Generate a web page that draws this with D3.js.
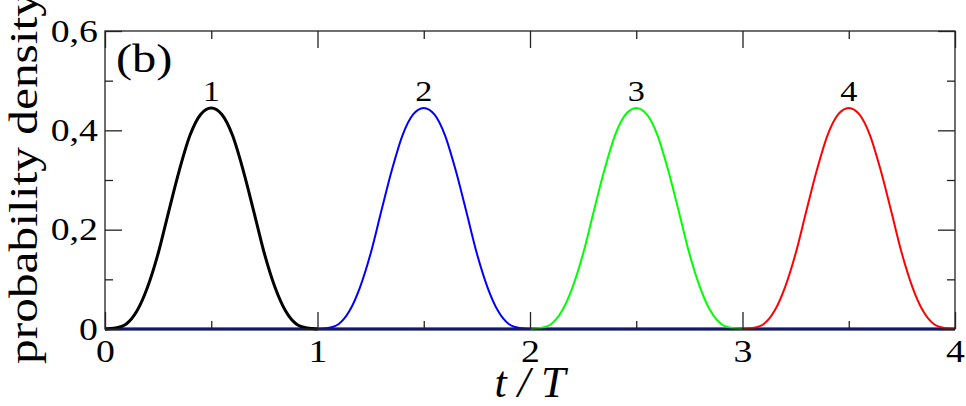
<!DOCTYPE html>
<html>
<head>
<meta charset="utf-8">
<script src="https://cdn.jsdelivr.net/npm/d3@7"></script>
<style>
  body { margin: 0; background: #fff; }
  text { font-family: "Liberation Serif", "Times New Roman", serif; fill: #000; }
</style>
</head>
<body>
<svg width="966" height="406"></svg>
<script>
var tLocal  = [0, 0.05, 0.1, 0.15, 0.2, 0.25, 0.3, 0.35, 0.4, 0.45, 0.5,
               0.55, 0.6, 0.65, 0.7, 0.75, 0.8, 0.85, 0.9, 0.95, 1];
var bump1 = [0, 0.002, 0.010, 0.036, 0.084, 0.152, 0.237, 0.320, 0.390, 0.432, 0.445,
             0.432, 0.390, 0.320, 0.237, 0.152, 0.084, 0.036, 0.010, 0.002, 0];
var bump2 = [0, 0.002, 0.010, 0.036, 0.084, 0.152, 0.237, 0.320, 0.390, 0.432, 0.445,
             0.432, 0.390, 0.320, 0.237, 0.152, 0.084, 0.036, 0.010, 0.002, 0];
var bump3 = [0, 0.002, 0.010, 0.036, 0.084, 0.152, 0.237, 0.320, 0.390, 0.432, 0.445,
             0.432, 0.390, 0.320, 0.237, 0.152, 0.084, 0.036, 0.010, 0.002, 0];
var bump4 = [0, 0.002, 0.010, 0.036, 0.084, 0.152, 0.237, 0.320, 0.390, 0.432, 0.445,
             0.432, 0.390, 0.320, 0.237, 0.152, 0.084, 0.036, 0.010, 0.002, 0];
var starts  = [0, 1, 2, 3];
var names   = ["1", "2", "3", "4"];
var colors  = ["#000000", "#0000ff", "#00ff00", "#ff0000"];
var widths  = [3, 2, 2, 2];
var peakT   = [0.5, 1.5, 2.5, 3.5];
var labelY  = 0.46;

var xTicks = [0, 1, 2, 3, 4];
var xMinor = [0.5, 1.5, 2.5, 3.5];
var yTicks = [0, 0.2, 0.4, 0.6];
var yMinor = [0.1, 0.3, 0.5];
var yTickLabels = ["0", "0,2", "0,4", "0,6"];

var bumps = [bump1, bump2, bump3, bump4];

var svg = d3.select("svg");
var pLeft = 105, pRight = 955, pTop = 31, pBottom = 329;
var wide = "scale(1.18,1)";   // the figure's lettering is drawn a bit wide

var x = d3.scaleLinear().domain([0, 4]).range([pLeft, pRight]);
var y = d3.scaleLinear().domain([0, 0.6]).range([pBottom, pTop]);

var line = d3.line()
    .x(d => x(d[0]))
    .y(d => y(d[1]))
    .curve(d3.curveMonotoneX);

// zero tails of every series along the bottom (drawn so the dark one ends on top)
[3, 2, 0, 1].forEach(function(i) {
  svg.append("path")
      .attr("d", line([[0, 0], [4, 0]]))
      .attr("fill", "none")
      .attr("stroke", colors[i])
      .attr("stroke-width", 2.4);
});

bumps.forEach(function(vals, i) {
  var pts = tLocal.map((t, j) => [starts[i] + t, vals[j]]);
  svg.append("path")
      .attr("d", line(pts))
      .attr("fill", "none")
      .attr("stroke", colors[i])
      .attr("stroke-width", widths[i])
      .attr("stroke-linejoin", "round");
});

// frame
svg.append("rect")
    .attr("x", pLeft).attr("y", pTop)
    .attr("width", pRight - pLeft).attr("height", pBottom - pTop)
    .attr("fill", "none").attr("stroke", "#222").attr("stroke-width", 1.3);

function ticks(axis, vals, size) {
  return axis.tickValues(vals).tickSize(-size).tickFormat("");
}

svg.append("g").attr("transform", "translate(0," + pBottom + ")")
    .call(d3.axisBottom(x).tickValues(xTicks).tickSize(-17).tickPadding(10).tickFormat(d3.format("d")));
svg.append("g").attr("transform", "translate(0," + pBottom + ")").call(ticks(d3.axisBottom(x), xMinor, 8));
svg.append("g").attr("transform", "translate(0," + pTop + ")").call(ticks(d3.axisTop(x), xTicks, 17));
svg.append("g").attr("transform", "translate(0," + pTop + ")").call(ticks(d3.axisTop(x), xMinor, 8));

svg.append("g").attr("transform", "translate(" + pLeft + ",0)")
    .call(d3.axisLeft(y).tickValues(yTicks).tickSize(-17).tickPadding(6).tickFormat((d, i) => yTickLabels[i]));
svg.append("g").attr("transform", "translate(" + pLeft + ",0)").call(ticks(d3.axisLeft(y), yMinor, 8));
svg.append("g").attr("transform", "translate(" + pRight + ",0)").call(ticks(d3.axisRight(y), yTicks, 17));
svg.append("g").attr("transform", "translate(" + pRight + ",0)").call(ticks(d3.axisRight(y), yMinor, 8));

svg.selectAll(".domain").remove();
svg.selectAll(".tick line").attr("stroke", "#222").attr("stroke-width", 1.3);
svg.selectAll(".tick text")
    .attr("font-family", "Liberation Serif")
    .attr("font-size", 32)
    .attr("fill", "#000")
    .attr("transform", wide);

// peak labels
svg.selectAll(".peak")
  .data(peakT)
  .join("text")
    .attr("class", "peak")
    .attr("transform", d => "translate(" + x(d) + "," + y(labelY) + ") " + wide)
    .attr("text-anchor", "middle")
    .attr("font-size", 29)
    .text((d, i) => names[i]);

svg.append("text")
    .attr("transform", "translate(116,72) " + wide)
    .attr("font-size", 41)
    .text("(b)");

svg.append("text")
    .attr("transform", "translate(37,178) rotate(-90)")
    .attr("text-anchor", "middle")
    .attr("font-size", 41)
    .attr("textLength", 372)
    .attr("lengthAdjust", "spacingAndGlyphs")
    .text("probability density");

svg.append("text")
    .attr("x", x(2)).attr("y", 397)
    .attr("text-anchor", "middle")
    .attr("font-size", 44)
    .attr("font-style", "italic")
    .text("t / T");
</script>
</body>
</html>
